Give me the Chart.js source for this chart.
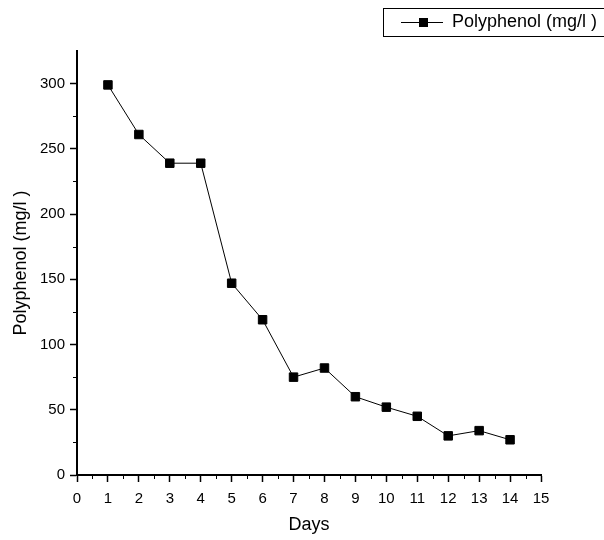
<!DOCTYPE html>
<html>
<head>
<meta charset="utf-8">
<script src="https://cdn.jsdelivr.net/npm/chart.js@4/dist/chart.umd.min.js"></script>
<style>
  body { margin: 0; background: #fff; }
</style>
</head>
<body>
<canvas id="myChart" width="604" height="540"></canvas>
<script>
const days = [1, 2, 3, 4, 5, 6, 7, 8, 9, 10, 11, 12, 13, 14];
const polyphenol = [299, 261, 239, 239, 147, 119, 75, 82, 60, 52, 45, 30, 34, 27];
const seriesLabel = 'Polyphenol (mg/l )';

const FONT = 'Liberation Sans, Arial, sans-serif';

// minor ticks between the major ones (outside the axes)
const minorTicks = {
    id: 'minorTicks',
    afterDraw(chart) {
        const ctx = chart.ctx;
        const x = chart.scales.x, y = chart.scales.y;
        ctx.save();
        ctx.strokeStyle = '#000';
        ctx.lineWidth = 1;
        ctx.beginPath();
        for (let v = 0.5; v < 15; v += 1) {
            const px = Math.round(x.getPixelForValue(v)) + 0.5;
            ctx.moveTo(px, y.bottom);
            ctx.lineTo(px, y.bottom + 4);
        }
        for (let v = 25; v < 325; v += 50) {
            const py = Math.round(y.getPixelForValue(v)) + 0.5;
            ctx.moveTo(x.left, py);
            ctx.lineTo(x.left - 4, py);
        }
        ctx.stroke();
        ctx.restore();
    }
};

// legend box at the top right
const boxLegend = {
    id: 'boxLegend',
    afterDraw(chart) {
        const ctx = chart.ctx;
        ctx.save();
        ctx.strokeStyle = '#000';
        ctx.lineWidth = 1;
        ctx.strokeRect(383.5, 8.5, 240, 28);
        ctx.beginPath();
        ctx.moveTo(401, 22.5);
        ctx.lineTo(443, 22.5);
        ctx.stroke();
        ctx.fillStyle = '#000';
        ctx.fillRect(419, 18, 9, 9);
        ctx.font = '18px ' + FONT;
        ctx.textBaseline = 'middle';
        ctx.fillText(seriesLabel, 452, 22);
        ctx.restore();
    }
};

const data = {
    datasets: [{
        label: seriesLabel,
        data: days.map((d, i) => ({ x: d, y: polyphenol[i] })),
        borderColor: '#000',
        backgroundColor: '#000',
        borderWidth: 1,
        pointStyle: 'rect',
        pointRadius: 6,
        pointHoverRadius: 6,
        tension: 0
    }]
};

const config = {
    type: 'line',
    data: data,
    options: {
        responsive: false,
        animation: false,
        layout: { padding: { top: 51, right: 63, left: 0, bottom: 0 } },
        plugins: {
            legend: { display: false },
            tooltip: { enabled: false }
        },
        scales: {
            x: {
                type: 'linear',
                min: 0,
                max: 15,
                ticks: {
                    stepSize: 1,
                    color: '#000',
                    font: { family: FONT, size: 15 },
                    padding: 8,
                    maxRotation: 0
                },
                grid: { drawOnChartArea: false, tickLength: 7, tickColor: '#000', tickWidth: 1.5 },
                border: { display: true, color: '#000', width: 2 },
                title: {
                    display: true,
                    text: 'Days',
                    color: '#000',
                    font: { family: FONT, size: 18 },
                    padding: { top: 11 }
                },
                afterFit(scale) { scale.height = 65; }
            },
            y: {
                min: 0,
                max: 325,
                afterBuildTicks(scale) {
                    scale.ticks = [0, 50, 100, 150, 200, 250, 300].map(v => ({ value: v }));
                },
                ticks: {
                    color: '#000',
                    font: { family: FONT, size: 15 },
                    padding: 5
                },
                grid: { drawOnChartArea: false, tickLength: 7, tickColor: '#000', tickWidth: 1.5 },
                border: { display: true, color: '#000', width: 2 },
                title: {
                    display: true,
                    text: 'Polyphenol (mg/l )',
                    color: '#000',
                    font: { family: FONT, size: 18 },
                    padding: { top: 10, bottom: 4 }
                },
                afterFit(scale) { scale.width = 77; }
            }
        }
    },
    plugins: [minorTicks, boxLegend]
};

const myChart = new Chart(document.getElementById('myChart'), config);
</script>
</body>
</html>
